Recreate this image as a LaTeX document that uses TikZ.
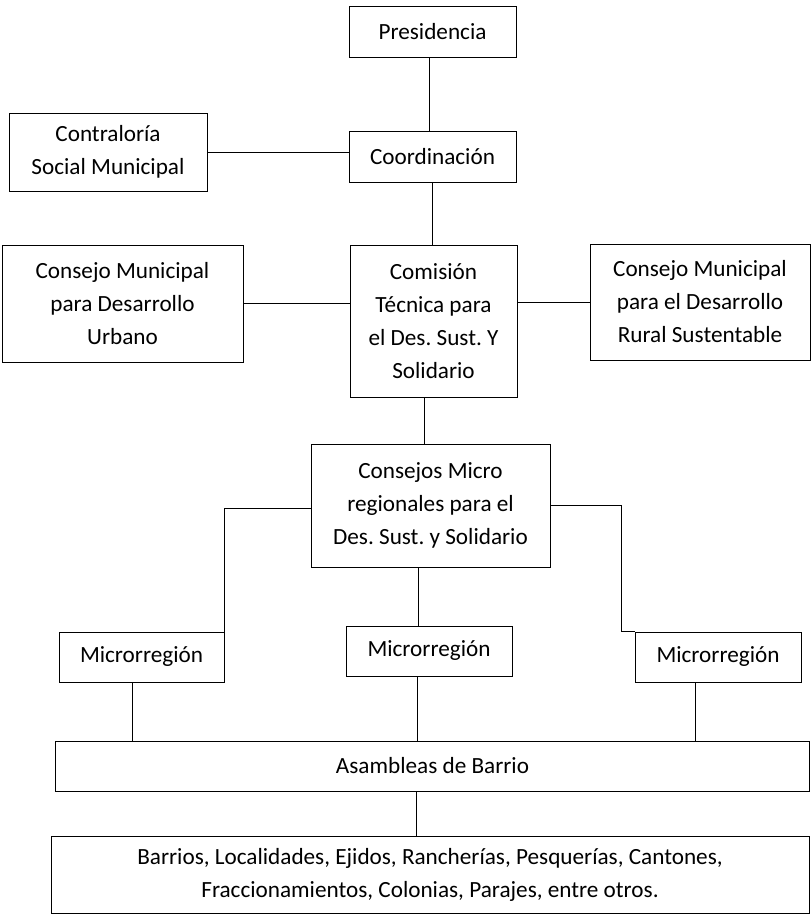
\documentclass[tikz,border=0pt]{standalone}
\usepackage{fontspec}
\setmainfont{Carlito}
\frenchspacing
\begin{document}
\begin{tikzpicture}[x=1pt,y=-1pt,
  box/.style={draw=black,line width=0.9pt,inner sep=0pt,align=center,
    font=\fontsize{23.2}{33}\selectfont},
  link/.style={draw=black,line width=0.9pt}]
\useasboundingbox (0,0) rectangle (812,914);
\fill[white] (0,0) rectangle (812,914);

% boxes
\node[box,minimum width=167pt,minimum height=51pt] (pres) at (432.5,31.5) {Presidencia};
\node[box,minimum width=167pt,minimum height=51pt] (coord) at (432.5,156.5) {Coordinación};
\node[box,minimum width=198pt,minimum height=78pt] (contra) at (108,152) {Contraloría\\Social Municipal};
\node[box,minimum width=167pt,minimum height=152pt] (comis) at (433.5,321.5) {Comisión\\Técnica para\\el Des. Sust. Y\\Solidario};
\node[box,minimum width=241pt,minimum height=117pt] (urb) at (122.5,303.5) {Consejo Municipal\\para Desarrollo\\Urbano};
\node[box,minimum width=220pt,minimum height=116pt] (rur) at (700,302) {Consejo Municipal\\para el Desarrollo\\Rural Sustentable};
\node[box,minimum width=239pt,minimum height=123pt] (cmr) at (430.5,505.5) {Consejos Micro\\regionales para el\\Des. Sust. y Solidario};
\node[box,minimum width=165pt,minimum height=50pt] (m1) at (141.5,657) {Microrregión};
\node[box,minimum width=166pt,minimum height=50pt] (m2) at (429,651) {Microrregión};
\node[box,minimum width=166pt,minimum height=50pt] (m3) at (718,657) {Microrregión};
\node[box,minimum width=754pt,minimum height=50pt] (asam) at (432.5,766) {Asambleas de Barrio};
\node[box,minimum width=758pt,minimum height=77pt] (bot) at (430,874.5) {Barrios, Localidades, Ejidos, Rancherías, Pesquerías, Cantones,\\Fraccionamientos, Colonias, Parajes, entre otros.};

% connectors
\draw[link] ([xshift=-3.5pt]pres.south) -- ([xshift=-3.5pt]coord.north);
\draw[link] (contra.east) -- (contra.east -| coord.west);
\draw[link] (coord.south) -- (coord.south |- comis.north);
\draw[link] (urb.east) -- (urb.east -| comis.west);
\draw[link] (rur.west -| comis.east) -- (rur.west);
\draw[link] ([xshift=-9.5pt]comis.south) -- ([xshift=-9.5pt]comis.south |- cmr.north);
\draw[link] ([yshift=-2.5pt]cmr.west) -| (m1.north east);
\draw[link] (cmr.east) -| ([xshift=-13pt]m3.north west) -- (m3.north west);
\draw[link] ([xshift=-12.5pt]cmr.south) -- ([xshift=-12.5pt]cmr.south |- m2.north);
\draw[link] ([xshift=-9.5pt]m1.south) -- ([xshift=-9.5pt]m1.south |- asam.north);
\draw[link] ([xshift=-12pt]m2.south) -- ([xshift=-12pt]m2.south |- asam.north);
\draw[link] ([xshift=-23pt]m3.south) -- ([xshift=-23pt]m3.south |- asam.north);
\draw[link] ([xshift=-16pt]asam.south) -- ([xshift=-16pt]asam.south |- bot.north);
\end{tikzpicture}
\end{document}
